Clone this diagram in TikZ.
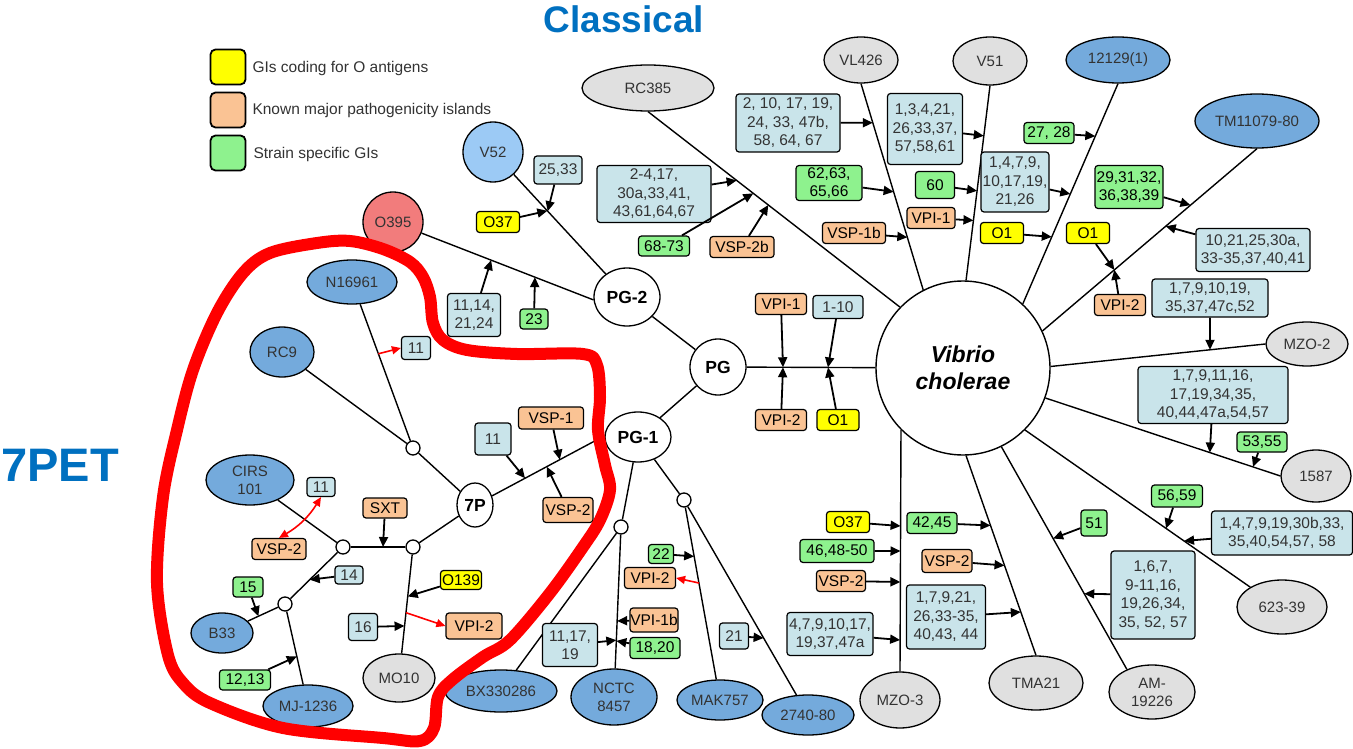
\documentclass[tikz,border=0pt]{standalone}
\usepackage{fontspec}
\setmainfont{Liberation Sans}
\usetikzlibrary{shapes.geometric,arrows.meta,calc}
\definecolor{cblue}{HTML}{74AADC}
\definecolor{clblue}{HTML}{9CCAF5}
\definecolor{csalmon}{HTML}{F27C7C}
\definecolor{cgray}{HTML}{E0E0E0}
\definecolor{boxblue}{HTML}{C9E4EA}
\definecolor{boxgreen}{HTML}{8EF28E}
\definecolor{boxorange}{HTML}{FAC394}
\definecolor{boxyellow}{HTML}{FFFF00}
\definecolor{titleblue}{HTML}{0070C0}
\begin{document}
\begin{tikzpicture}[x=1pt,y=-1pt,
  wh/.style 2 args={minimum width=#1pt,minimum height=#2pt},
  edge/.style={line width=1.4pt},
  ann/.style={line width=1.8pt,-{Triangle[length=10pt,width=9pt]}},
  rann/.style={line width=1.6pt,red,-{Triangle[length=9pt,width=8pt]}},
  leaf/.style={ellipse,draw,line width=1.3pt,inner sep=0pt,font=\fontsize{15}{18}\selectfont,text=black!80,align=center},
  inner/.style={ellipse,draw,line width=1.3pt,inner sep=0pt,fill=white,font=\fontsize{17.5}{19}\selectfont\bfseries},
  jn/.style={circle,draw,line width=1.3pt,inner sep=0pt,minimum size=14pt,fill=white},
  gi/.style={draw,line width=1.2pt,rounded corners=3pt,inner sep=0pt,align=center,font=\fontsize{15.5}{18.5}\selectfont},
  gb/.style={gi,fill=boxblue,text=black!80},
  gg/.style={gi,fill=boxgreen},
  go/.style={gi,fill=boxorange},
  gy/.style={gi,fill=boxyellow},
  legsq/.style={draw,line width=1.8pt,rounded corners=5pt,minimum size=35pt,inner sep=0pt},
  legtx/.style={anchor=west,font=\fontsize{15.5}{17}\selectfont,text=black!80}
]
\useasboundingbox (0,0) rectangle (1353,749);
\fill[white] (0,0) rectangle (1353,749);

% titles
\node[font=\fontsize{37}{40}\selectfont\bfseries,text=titleblue] (title) at (624,19) {Classical};
\node[font=\fontsize{47}{50}\selectfont\bfseries,text=titleblue] (pet) at (60,465) {7PET};

% legend
\node[legsq,fill=boxyellow] (lg1) at (228,67) {};
\node[legsq,fill=boxorange] (lg2) at (228,110) {};
\node[legsq,fill=boxgreen] (lg3) at (228,153) {};
\node[legtx] (lt1) at (249,68) {GIs coding for O antigens};
\node[legtx] (lt2) at (249,110) {Known major pathogenicity islands};
\node[legtx] (lt3) at (250,154) {Strain specific GIs};

% central nodes
\node[circle,draw,line width=1.4pt,minimum size=174pt,inner sep=0pt,fill=white,align=center,
      font=\fontsize{23}{27}\selectfont\bfseries\itshape] (vc) at (963,368) {Vibrio\\cholerae};
\node[inner,circle,minimum size=56pt] (PG) at (718,367) {PG};
\node[inner,wh={66}{58}] (PG2) at (627,297) {PG-2};
\node[inner,wh={66}{50}] (PG1) at (638,437) {PG-1};
\node[inner,wh={36}{44}] (P7) at (475,505) {7P};
\node[jn] (J1) at (413,448) {};
\node[jn] (J2) at (343,547) {};
\node[jn] (J3) at (413,547) {};
\node[jn] (J4) at (285,604) {};
\node[jn] (J5) at (621,527) {};
\node[jn] (J6) at (684,500) {};

% leaves
\node[leaf,fill=cgray,wh={132}{46}] (RC385) at (648,88) {RC385};
\node[leaf,fill=cgray,wh={74}{46}] (VL426) at (861,60) {VL426};
\node[leaf,fill=cgray,wh={74}{48}] (V51) at (990,61) {V51};
\node[leaf,fill=cblue,wh={104}{46}] (n12129) at (1118,60) {12129(1)};
\node[leaf,fill=cblue,wh={124}{54}] (TM) at (1257,121) {TM11079-80};
\node[leaf,fill=cgray,wh={82}{44}] (MZO2) at (1307,344) {MZO-2};
\node[leaf,fill=cgray,wh={70}{52}] (n1587) at (1316,476) {1587};
\node[leaf,fill=cgray,wh={90}{54}] (n62339) at (1282,607) {623-39};
\node[leaf,fill=cgray,wh={86}{54}] (AM) at (1152,692) {AM-\\19226};
\node[leaf,fill=cgray,wh={94}{54}] (TMA) at (1036,683) {TMA21};
\node[leaf,fill=cgray,wh={80}{56}] (MZO3) at (900,700) {MZO-3};
\node[leaf,fill=cblue,wh={92}{40}] (n274080) at (808,715) {2740-80};
\node[leaf,fill=cblue,wh={86}{40}] (MAK) at (720,700) {MAK757};
\node[leaf,fill=cblue,wh={86}{56}] (NCTC) at (614,697) {NCTC\\8457};
\node[leaf,fill=cblue,wh={112}{42}] (BX) at (501,691) {BX330286};
\node[leaf,fill=cgray,wh={72}{48}] (MO10) at (399,678) {MO10};
\node[leaf,fill=cblue,wh={90}{42}] (MJ) at (308,706) {MJ-1236};
\node[leaf,fill=cblue,wh={62}{40}] (B33) at (222,633) {B33};
\node[leaf,fill=cblue,wh={88}{50}] (CIRS) at (250,480) {CIRS\\101};
\node[leaf,fill=cblue,wh={64}{50}] (RC9) at (282,352) {RC9};
\node[leaf,fill=cblue,wh={90}{44}] (N16961) at (352,282) {N16961};
\node[leaf,circle,fill=clblue,minimum size=60pt] (V52) at (493,152) {V52};
\node[leaf,circle,fill=csalmon,minimum size=60pt] (O395) at (393,222) {O395};

% tree edges
\draw[edge] (V52) -- (PG2);
\draw[edge] (O395) -- (PG2.185);
\draw[edge] (PG2) -- (PG);
\draw[edge] (PG) -- (vc);
\draw[edge] (PG) -- (PG1);
\draw[edge] (PG1.178) -- (P7);
\draw[edge] (PG1) -- (J5);
\draw[edge] (PG1) -- (J6);
\draw[edge] (J5) -- (BX);
\draw[edge] (J5) -- (NCTC);
\draw[edge] (J6) -- (MAK);
\draw[edge] (J6) -- (n274080);
\draw[edge] (P7) -- (J1);
\draw[edge] (J1) -- (N16961);
\draw[edge] (J1) -- (RC9);
\draw[edge] (P7) -- (J3);
\draw[edge] (J3) -- (J2);
\draw[edge] (J3) -- (MO10);
\draw[edge] (J2) -- (CIRS);
\draw[edge] (J2) -- (J4);
\draw[edge] (J4) -- (B33);
\draw[edge] (J4) -- (MJ);
\draw[edge] (RC385.south) -- (vc.136);
\draw[edge] (VL426.south) -- (vc.117);
\draw[edge] (V51.south) -- (vc.88);
\draw[edge] (n12129.south) -- (vc.47);
\draw[edge] (TM.south) -- (vc.25);
\draw[edge] (MZO2.west) -- (vc.1);
\draw[edge] (n1587.west) -- (vc.-20);
\draw[edge] (n62339.148) -- (vc.-45);
\draw[edge] (AM.138) -- (vc.-64);
\draw[edge] (TMA.north) -- (vc.-88);
\draw[edge] (MZO3.north) -- (vc.-135);

% GI boxes
\node[gb,wh={48}{28}] (b2533) at (558,170) {25,33};
\node[gy,wh={43}{21}] (bO37a) at (498,222) {O37};
\node[gb,wh={53}{43}] (b1114) at (474,315) {11,14,\\21,24};
\node[gg,wh={28}{20}] (b23) at (534,319) {23};
\node[gb,wh={114}{57}] (b24) at (654,194) {2-4,17,\\30a,33,41,\\43,61,64,67};
\node[gg,wh={51}{20}] (b6873) at (664,246) {68-73};
\node[go,wh={64}{21}] (bVSP2b) at (742,247) {VSP-2b};
\node[gb,wh={104}{58}] (b210) at (788,123) {2, 10, 17, 19,\\24, 33, 47b,\\58, 64, 67};
\node[gg,wh={66}{35}] (b6263) at (829,183) {62,63,\\65,66};
\node[go,wh={63}{21}] (bVSP1b) at (854,233) {VSP-1b};
\node[go,wh={48}{21}] (bVPI1a) at (931,218) {VPI-1};
\node[gb,wh={75}{71}] (b1342) at (925,129) {1,3,4,21,\\26,33,37,\\57,58,61};
\node[gg,wh={39}{27}] (b60) at (935,185) {60};
\node[gg,wh={50}{21}] (b2728) at (1049,133) {27, 28};
\node[gb,wh={68}{60}] (b1479) at (1015,182) {1,4,7,9,\\10,17,19,\\21,26};
\node[gy,wh={43}{21}] (bO1a) at (1002,233) {O1};
\node[gy,wh={43}{21}] (bO1b) at (1088,233) {O1};
\node[go,wh={51}{21}] (bVPI2a) at (1120,305) {VPI-2};
\node[gg,wh={68}{43}] (b2931) at (1129,187) {29,31,32,\\36,38,39};
\node[gb,wh={114}{43}] (b1021) at (1253,250) {10,21,25,30a,\\33-35,37,40,41};
\node[gb,wh={116}{38}] (b17910) at (1210,298) {1,7,9,10,19,\\35,37,47c,52};
\node[gb,wh={150}{57}] (b17911) at (1213,395) {1,7,9,11,16,\\17,19,34,35,\\40,44,47a,54,57};
\node[gg,wh={50}{20}] (b5355) at (1262,442) {53,55};
\node[gg,wh={51}{22}] (b5659) at (1177,496) {56,59};
\node[gb,wh={141}{44}] (b14719) at (1282,533) {1,4,7,9,19,30b,33,\\35,40,54,57, 58};
\node[gg,wh={26}{26}] (b51) at (1094,523) {51};
\node[gb,wh={84}{88}] (b167) at (1153,595) {1,6,7,\\9-11,16,\\19,26,34,\\35, 52, 57};
\node[gg,wh={50}{21}] (b4245) at (932,523) {42,45};
\node[go,wh={50}{23}] (bVSP2d) at (947,561) {VSP-2};
\node[gb,wh={79}{64}] (b17921) at (946,617) {1,7,9,21,\\26,33-35,\\40,43, 44};
\node[gy,wh={43}{21}] (bO37b) at (848,522) {O37};
\node[gg,wh={74}{23}] (b4648) at (837,551) {46,48-50};
\node[go,wh={49}{21}] (bVSP2e) at (841,581) {VSP-2};
\node[gb,wh={86}{43}] (b47910) at (830,634) {4,7,9,10,17,\\19,37,47a};
\node[gb,wh={29}{26}] (b21) at (734,636) {21};
\node[gg,wh={25}{19}] (b22) at (661,554) {22};
\node[go,wh={51}{21}] (bVPI2b) at (650,578) {VPI-2};
\node[go,wh={48}{24}] (bVPI1b) at (654,620) {VPI-1b};
\node[gg,wh={50}{21}] (b1820) at (655,648) {18,20};
\node[gb,wh={55}{43}] (b111719) at (570,645) {11,17,\\19};
\node[go,wh={51}{21}] (bVPI1c) at (781,304) {VPI-1};
\node[gb,wh={50}{23}] (b110) at (838,307) {1-10};
\node[go,wh={51}{21}] (bVPI2c) at (781,420) {VPI-2};
\node[gy,wh={42}{21}] (bO1c) at (838,420) {O1};
\node[gb,wh={36}{32}] (b11b) at (493,439) {11};
\node[go,wh={65}{22}] (bVSP1) at (551,418) {VSP-1};
\node[go,wh={50}{25}] (bVSP2a) at (568,510) {VSP-2};
\node[gb,wh={29}{23}] (b11a) at (416,348) {11};
\node[gb,wh={28}{19}] (b11c) at (321,487) {11};
\node[go,wh={54}{21}] (bVSP2c) at (279,549) {VSP-2};
\node[go,wh={44}{20}] (bSXT) at (385,508) {SXT};
\node[gb,wh={28}{18}] (b14) at (349,575) {14};
\node[gg,wh={30}{20}] (b15) at (248,587) {15};
\node[gg,wh={51}{20}] (b1213) at (245,680) {12,13};
\node[gy,wh={41}{19}] (bO139) at (461,580) {O139};
\node[gb,wh={29}{27}] (b16) at (363,627) {16};
\node[go,wh={56}{26}] (bVPI2d) at (474,626) {VPI-2};

% arrow targets on edges
\coordinate (t2533) at ($(V52)!(549,210)!(PG2)$);
\coordinate (tO37a) at ($(V52)!(545,213)!(PG2)$);
\coordinate (t1114) at ($(O395)!(492,258)!(PG2.185)$);
\coordinate (t23) at ($(O395)!(535,277)!(PG2.185)$);
\coordinate (t24) at ($(RC385.south)!(737,180)!(vc.136)$);
\coordinate (t6873) at ($(RC385.south)!(752,195)!(vc.136)$);
\coordinate (tVSP2b) at ($(RC385.south)!(766,208)!(vc.136)$);
\coordinate (t210) at ($(VL426.south)!(872,123)!(vc.117)$);
\coordinate (t6263) at ($(VL426.south)!(893,192)!(vc.117)$);
\coordinate (tVSP1b) at ($(VL426.south)!(905,238)!(vc.117)$);
\coordinate (t1342) at ($(V51.south)!(977,135)!(vc.88)$);
\coordinate (t60) at ($(V51.south)!(970,190)!(vc.88)$);
\coordinate (tVPI1a) at ($(V51.south)!(970,220)!(vc.88)$);
\coordinate (t2728) at ($(n12129.south)!(1095,136)!(vc.47)$);
\coordinate (t1479) at ($(n12129.south)!(1068,193)!(vc.47)$);
\coordinate (tO1a) at ($(n12129.south)!(1052,237)!(vc.47)$);
\coordinate (t2931) at ($(TM.south)!(1192,207)!(vc.25)$);
\coordinate (t1021) at ($(TM.south)!(1168,229)!(vc.25)$);
\coordinate (tO1b) at ($(TM.south)!(1117,273)!(vc.25)$);
\coordinate (t17910) at ($(MZO2.west)!(1210,350)!(vc.1)$);
\coordinate (t17911) at ($(n1587.west)!(1210,452)!(vc.-20)$);
\coordinate (t5355) at ($(n1587.west)!(1253,467)!(vc.-20)$);
\coordinate (t5659) at ($(n62339.148)!(1167,527)!(vc.-45)$);
\coordinate (t14719) at ($(n62339.148)!(1184,541)!(vc.-45)$);
\coordinate (t51) at ($(AM.138)!(1054,538)!(vc.-64)$);
\coordinate (t167) at ($(AM.138)!(1082,595)!(vc.-64)$);
\coordinate (t4245) at ($(TMA.north)!(989,526)!(vc.-88)$);
\coordinate (tVSP2d) at ($(TMA.north)!(1003,566)!(vc.-88)$);
\coordinate (t17921) at ($(TMA.north)!(1018,613)!(vc.-88)$);
\coordinate (tO37b) at ($(MZO3.north)!(899,526)!(vc.-135)$);
\coordinate (t4648) at ($(MZO3.north)!(899,551)!(vc.-135)$);
\coordinate (tVSP2e) at ($(MZO3.north)!(900,582)!(vc.-135)$);
\coordinate (t47910) at ($(MZO3.north)!(899,640)!(vc.-135)$);
\coordinate (t21) at ($(J6)!(767,636)!(n274080)$);
\coordinate (t22) at ($(J6)!(691,557)!(MAK)$);
\coordinate (tr1) at ($(J6)!(699,583)!(MAK)$);
\coordinate (tVPI1b) at ($(J5)!(617,621)!(NCTC)$);
\coordinate (t1820) at ($(J5)!(618,641)!(NCTC)$);
\coordinate (t111719) at ($(J5)!(612,640)!(NCTC)$);
\coordinate (tA) at ($(PG)!(783,367)!(vc)$);
\coordinate (tB) at ($(PG)!(828,367)!(vc)$);
\coordinate (t11b) at ($(PG1.178)!(527,482)!(P7)$);
\coordinate (tVSP1) at ($(PG1.178)!(560,460)!(P7)$);
\coordinate (tVSP2a) at ($(PG1.178)!(549,471)!(P7)$);
\coordinate (tr2) at ($(J1)!(375,355)!(N16961)$);
\coordinate (tSXT) at ($(J2)!(383,545)!(J3)$);
\coordinate (t14) at ($(J2)!(308,578)!(J4)$);
\coordinate (t15) at ($(J4)!(262,624)!(B33)$);
\coordinate (t1213) at ($(J4)!(294,657)!(MJ)$);
\coordinate (tO139) at ($(J3)!(413,597)!(MO10)$);
\coordinate (t16) at ($(J3)!(405,626)!(MO10)$);
\coordinate (tr3) at ($(J3)!(409,613)!(MO10)$);

% black arrows
\draw[ann] (b2533) -- (t2533);
\draw[ann] (bO37a) -- (tO37a);
\draw[ann] (b1114) -- (t1114);
\draw[ann] (b23) -- (t23);
\draw[ann] (b24) -- (t24);
\draw[ann] (b6873) -- (t6873);
\draw[ann] (bVSP2b) -- (tVSP2b);
\draw[ann] (b210) -- (t210);
\draw[ann] (b6263) -- (t6263);
\draw[ann] (bVSP1b) -- (tVSP1b);
\draw[ann] (b1342) -- (t1342);
\draw[ann] (b60) -- (t60);
\draw[ann] (bVPI1a) -- (tVPI1a);
\draw[ann] (b2728) -- (t2728);
\draw[ann] (b1479) -- (t1479);
\draw[ann] (bO1a) -- (tO1a);
\draw[ann] (b2931) -- (t2931);
\draw[ann] (b1021) -- (t1021);
\draw[ann] (bO1b) -- (tO1b);
\draw[ann] (bVPI2a) -- (tO1b);
\draw[ann] (b17910) -- (t17910);
\draw[ann] (b17911) -- (t17911);
\draw[ann] (b5355) -- (t5355);
\draw[ann] (b5659) -- (t5659);
\draw[ann] (b14719) -- (t14719);
\draw[ann] (b51) -- (t51);
\draw[ann] (b167) -- (t167);
\draw[ann] (b4245) -- (t4245);
\draw[ann] (bVSP2d) -- (tVSP2d);
\draw[ann] (b17921) -- (t17921);
\draw[ann] (bO37b) -- (tO37b);
\draw[ann] (b4648) -- (t4648);
\draw[ann] (bVSP2e) -- (tVSP2e);
\draw[ann] (b47910) -- (t47910);
\draw[ann] (b21) -- (t21);
\draw[ann] (b22) -- (t22);
\draw[ann] (bVPI1b) -- (tVPI1b);
\draw[ann] (b1820) -- (t1820);
\draw[ann] (b111719) -- (t111719);
\draw[ann] (bVPI1c) -- (tA);
\draw[ann] (bVPI2c) -- (tA);
\draw[ann] (b110) -- (tB);
\draw[ann] (bO1c) -- (tB);
\draw[ann] (b11b) -- (t11b);
\draw[ann] (bVSP1) -- (tVSP1);
\draw[ann] (bVSP2a) -- (tVSP2a);
\draw[ann] (bSXT) -- (tSXT);
\draw[ann] (b14) -- (t14);
\draw[ann] (b15) -- (t15);
\draw[ann] (b1213) -- (t1213);
\draw[ann] (bO139) -- (tO139);
\draw[ann] (b16) -- (t16);

% red arrows
\draw[rann] (tr1) -- (bVPI2b.east);
\draw[rann] (tr2) -- (b11a.west);
\draw[rann] (tr3) -- (bVPI2d.west);
\draw[rann,{Triangle[length=9pt,width=8pt]}-{Triangle[length=9pt,width=8pt]}] (bVSP2c.north) to[bend right=14] (b11c.south);

% red highlight loop
\draw[red,line width=12pt,line join=round] plot[smooth cycle,tension=0.55] coordinates {
 (163,497) (177,430) (193,370) (217,313) (243,273) (270,253) (317,243) (350,241)
 (383,249) (410,262) (423,277) (430,297) (433,323) (443,340) (467,350) (517,354)
 (583,354) (597,365) (600,397) (598,430) (605,465) (610,490) (600,520) (583,547)
 (550,593) (510,640) (483,657) (452,680) (438,697) (434,728) (420,741) (383,738)
 (283,728) (210,703) (183,683) (168,655) (157,583)};
\end{tikzpicture}
\end{document}
